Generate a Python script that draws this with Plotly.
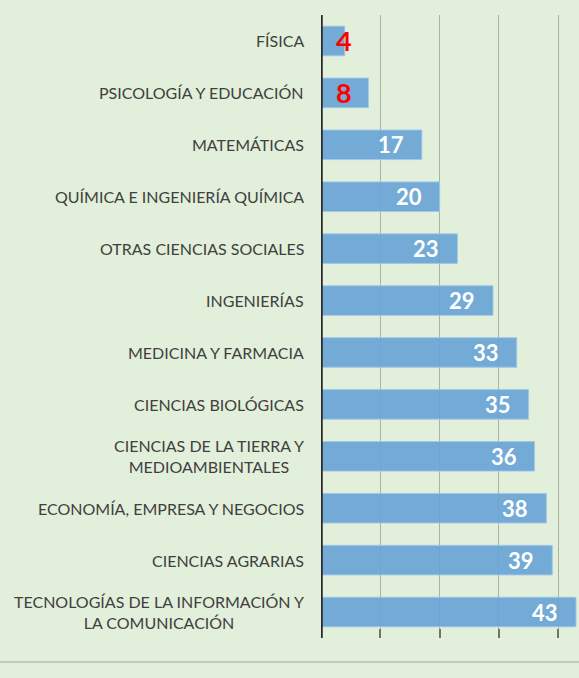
import plotly.graph_objects as go

categories = [
    "FÍSICA",
    "PSICOLOGÍA Y EDUCACIÓN",
    "MATEMÁTICAS",
    "QUÍMICA E INGENIERÍA QUÍMICA",
    "OTRAS CIENCIAS SOCIALES",
    "INGENIERÍAS",
    "MEDICINA Y FARMACIA",
    "CIENCIAS BIOLÓGICAS",
    "CIENCIAS DE LA TIERRA Y<br>MEDIOAMBIENTALES",
    "ECONOMÍA, EMPRESA Y NEGOCIOS",
    "CIENCIAS AGRARIAS",
    "TECNOLOGÍAS DE LA INFORMACIÓN Y<br>LA COMUNICACIÓN",
]
values = [4, 8, 17, 20, 23, 29, 33, 35, 36, 38, 39, 43]
label_colors = ["#ff0000", "#ff0000"] + ["#ffffff"] * 10

BG = "#e2efda"
FONT = "Lato"

fig = go.Figure()
fig.add_trace(go.Bar(
    x=values, y=categories, orientation="h",
    marker=dict(color="rgba(106,164,214,0.92)",
                line=dict(color="rgba(160,200,235,0.9)", width=1)),
    hoverinfo="skip",
))

annotations = []
for cat, v, col in zip(categories, values, label_colors):
    annotations.append(dict(
        x=0, y=cat, xref="x", yref="y", text=cat, showarrow=False,
        xanchor="right", align="center", xshift=-15,
        font=dict(family=FONT, size=16, color="#404040"),
    ))
    if col == "#ffffff":
        annotations.append(dict(
            x=v, y=cat, xref="x", yref="y", text=f"<b>{v}</b>", showarrow=False,
            xanchor="right", xshift=-16,
            font=dict(family=FONT, size=22, color=col),
        ))
    else:
        annotations.append(dict(
            x=0, y=cat, xref="x", yref="y", text=f"<b>{v}</b>", showarrow=False,
            xanchor="left", xshift=13,
            font=dict(family=FONT, size=27, color=col),
        ))

fig.update_layout(
    width=579, height=678,
    margin=dict(l=321, r=0, t=15, b=40),
    paper_bgcolor=BG, plot_bgcolor=BG,
    bargap=0.43,
    showlegend=False,
    annotations=annotations,
    xaxis=dict(range=[0, 43.5], dtick=10, tick0=0, showgrid=True,
               gridcolor="rgba(120,130,115,0.55)", gridwidth=1,
               zeroline=False, showticklabels=False,
               ticks="inside", ticklen=9, tickcolor="#6f756b", tickwidth=1.5,
               showline=False, layer="above traces"),
    yaxis=dict(autorange="reversed", showticklabels=False, showgrid=False,
               showline=False, zeroline=False),
    shapes=[
        dict(type="line", xref="x", yref="paper", x0=0, x1=0, y0=0, y1=1,
             line=dict(color="#2a2a2a", width=3.5)),
        dict(type="line", xref="paper", yref="paper", x0=-1.3, x1=1.1,
             y0=-24/623, y1=-24/623, line=dict(color="#c4c8c0", width=2)),
    ],
)

fig.write_html(
    "out.html",
    config={"displayModeBar": False},
    post_script="document.body.style.margin='0';document.body.style.overflow='hidden';",
)
